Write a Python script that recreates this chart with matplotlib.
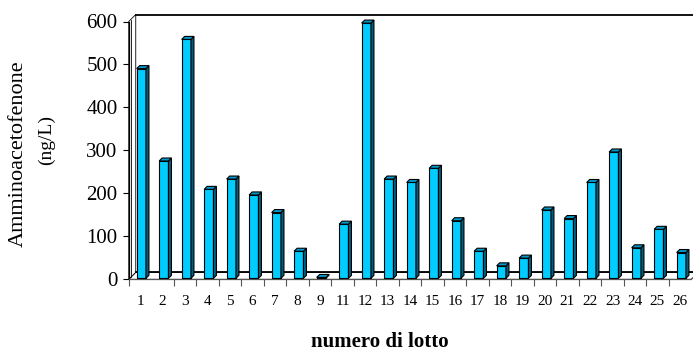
import matplotlib.pyplot as plt
from matplotlib.patches import Polygon
import numpy as np

plt.rcParams['font.family'] = ['Liberation Serif', 'DejaVu Serif']

# lotti analizzati (il 10 manca)
lotti = ["1", "2", "3", "4", "5", "6", "7", "8", "9", "11", "12", "13", "14",
         "15", "16", "17", "18", "19", "20", "21", "22", "23", "24", "25", "26"]
valori = [488, 273, 556, 207, 231, 194, 153, 63, 2, 126, 594, 231, 223,
          256, 134, 63, 29, 47, 159, 139, 223, 294, 71, 114, 60]
y_ticks = [0, 100, 200, 300, 400, 500, 600]

W, H = 693, 352
fig = plt.figure(figsize=(W / 100, H / 100), dpi=100)
ax = fig.add_axes([128.75 / W, (H - 279.3) / H, 562.5 / W, 257.8 / H])

n = len(lotti)
ymax = 600
ax.set_xlim(-0.5, n - 0.5)
ax.set_ylim(0, ymax)

# one pixel in data units
px = 1.0 / 22.5
py = ymax / 257.8

# back wall and floor, shifted by the 3D depth
dxw, dyw = 7 * px, 7 * py
xl, xr = -0.5, n - 0.5
floor = Polygon([(xl, 0), (xr, 0), (xr + dxw, dyw), (xl + dxw, dyw)],
                closed=True, fc="white", ec="black", lw=0.6, clip_on=False, zorder=1)
side_wall = Polygon([(xl, 0), (xl, ymax), (xl + dxw, ymax + dyw), (xl + dxw, dyw)],
                    closed=True, fc="white", ec="black", lw=0.6, clip_on=False, zorder=1)
ax.add_patch(floor)
ax.add_patch(side_wall)
ax.plot([xl + dxw, xr + dxw], [ymax + dyw, ymax + dyw], color="black", lw=1.3,
        clip_on=False, zorder=2)
ax.plot([xl + dxw, xr + dxw], [dyw, dyw], color="black", lw=1.3, clip_on=False, zorder=2)
ax.plot([xl + 2 * px, xl + 2 * px], [2 * py, ymax + 2 * py], color="black", lw=0.6,
        clip_on=False, zorder=2)

# 3D bars: front face, side and top
x = np.arange(n)
bw = 9.3 * px
dxb, dyb = 3 * px, 3 * py
x0, y0 = 1.3 * px - 0.5 * bw, 1.0 * py
for xi, v in zip(x, valori):
    left = xi + x0
    right = left + bw
    top = y0 + v
    front = Polygon([(left, y0), (right, y0), (right, top), (left, top)],
                    closed=True, fc="#00CCFF", ec="black", lw=0.8, zorder=4)
    side = Polygon([(right, y0), (right + dxb, y0 + dyb), (right + dxb, top + dyb), (right, top)],
                   closed=True, fc="#005F7F", ec="black", lw=0.8, zorder=4)
    lid = Polygon([(left, top), (right, top), (right + dxb, top + dyb), (left + dxb, top + dyb)],
                  closed=True, fc="#0099CC", ec="black", lw=0.8, zorder=4)
    for p in (front, side, lid):
        p.set_clip_on(False)
        ax.add_patch(p)

# spines and ticks
for s in ("top", "right"):
    ax.spines[s].set_visible(False)
ax.spines["left"].set_linewidth(0.9)
ax.spines["bottom"].set_color("#555555")
ax.spines["bottom"].set_linewidth(0.9)
ax.patch.set_visible(False)

ax.set_yticks(y_ticks)
ax.tick_params(axis="y", direction="out", length=4.5, width=0.8, pad=3.5, labelsize=15)

tick_pos = [-0.5] + [k + 0.5 for k in range(1, n - 1)]
ax.set_xticks(tick_pos)
ax.set_xticklabels([])
ax.set_xticks(x, minor=True)
ax.set_xticklabels(lotti, minor=True)
ax.tick_params(axis="x", which="major", direction="out", length=5, width=0.8, color="#555555")
ax.tick_params(axis="x", which="minor", length=0, pad=11, labelsize=11)

fig.text(18 / W, 1 - 154 / H, "Amminoacetofenone", rotation=90, ha="center", va="center",
         fontsize=16)
fig.text(46 / W, 1 - 140 / H, "(ng/L)", rotation=90, ha="center", va="center", fontsize=14)
fig.text(380 / W, 1 - 342 / H, "numero di lotto", ha="center", va="center", fontsize=15,
         fontweight="bold")

fig.savefig("out.png", dpi=100)
